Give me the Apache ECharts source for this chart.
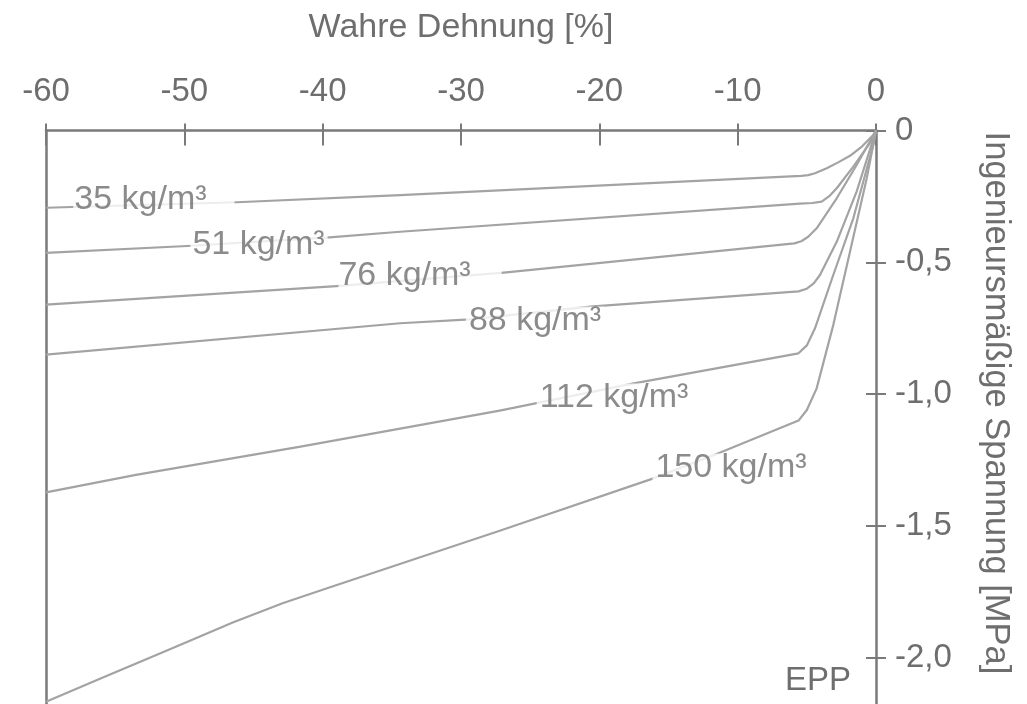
<!DOCTYPE html>
<html><head><meta charset="utf-8">
<script src="https://cdn.jsdelivr.net/npm/echarts@6/dist/echarts.min.js"></script>
<style>html,body{margin:0;padding:0;background:#fff}#c{width:1027px;height:704px}</style>
</head><body><div id="c"></div>
<script>
// ---- data (strain %, engineering stress MPa) ----
const densities = ['35', '51', '76', '88', '112', '150'];
const c35  = [[-60,-0.293],[-46.2,-0.272],[-34.4,-0.245],[-5.4,-0.172],[-4.9,-0.169],[-4.41,-0.162],[-3.56,-0.143],[-2.7,-0.12],[-1.88,-0.096],[-1.0,-0.060],[-0.2,-0.017],[0,0]];
const c51  = [[-60,-0.464],[-49.8,-0.438],[-39.5,-0.405],[-34.4,-0.384],[-5.5,-0.277],[-4.6,-0.275],[-3.93,-0.270],[-3.4,-0.250],[-2.84,-0.219],[-1.64,-0.137],[-0.2,-0.030],[0,0]];
const c76  = [[-60,-0.660],[-39,-0.590],[-26.9,-0.539],[-5.9,-0.428],[-5.4,-0.420],[-4.9,-0.403],[-4.29,-0.371],[-2.84,-0.257],[-1.4,-0.131],[0,0]];
const c88  = [[-60,-0.850],[-34.4,-0.731],[-29.35,-0.716],[-20.67,-0.668],[-5.6,-0.610],[-5.0,-0.600],[-4.5,-0.580],[-4.05,-0.548],[-2.84,-0.422],[-1.4,-0.232],[0,0]];
const c112 = [[-60,-1.372],[-53.5,-1.306],[-41.6,-1.199],[-27.2,-1.062],[-17.6,-0.960],[-5.6,-0.845],[-5.0,-0.815],[-4.41,-0.750],[-3.09,-0.548],[-1.64,-0.333],[-0.2,-0.055],[0,0]];
const c150 = [[-60,-2.166],[-56.1,-2.079],[-51,-1.966],[-46.5,-1.866],[-42.9,-1.793],[-39.25,-1.728],[-27.2,-1.518],[-16.3,-1.323],[-11.3,-1.222],[-5.6,-1.100],[-5.0,-1.060],[-4.29,-0.978],[-3.09,-0.738],[-1.88,-0.460],[-0.67,-0.181],[0,0]];
const curves = [c35, c51, c76, c88, c112, c150];
// label anchors (data coordinates)
const labelStrain = [-52.2, -44.6, -32.96, -24.65, -18.94, -10.48];
const labelStress = [-0.2636, -0.434, -0.550, -0.7205, -1.0125, -1.278];
// axes
const xMin = -60, xMax = 0, xStep = 10;
const yMin = -2.5, yMax = 0, yStep = 0.5;
const xTitle = 'Wahre Dehnung [%]';
const yTitle = 'Ingenieursmäßige Spannung [MPa]';
const materialTag = 'EPP';

// ---- styles ----
const FONT = "'Liberation Sans', Arial, sans-serif";
const AXIS = '#7a7a7a', TEXT = '#6e6e6e', LINE = '#a3a3a3';
const labelPad = [[0,28,0,1],[0,3,0,2],[0,31,0,0],[0,3,0,3],[0,3,0,3],[0,3,0,3]];

const chart = echarts.init(document.getElementById('c'), null, {renderer: 'canvas'});
const baseX = {type: 'value', min: xMin, max: xMax, interval: xStep, position: 'top', splitLine: {show: false}};
const baseY = {type: 'value', min: yMin, max: yMax, interval: yStep, splitLine: {show: false}};
const yFmt = v => v === 0 ? '0' : v.toFixed(1).replace('.', ',');

const series = curves.map((c, i) => ({
  type: 'line', data: c, showSymbol: false, smooth: false,
  lineStyle: {color: LINE, width: 2.2, join: 'round'}, silent: true, z: 2, xAxisIndex: 0, yAxisIndex: 0
}));
series.push({
  type: 'scatter', xAxisIndex: 0, yAxisIndex: 0, z: 5, silent: true,
  symbol: 'circle', symbolSize: 1, itemStyle: {color: 'rgba(0,0,0,0)'},
  data: densities.map((d, i) => ({
    value: [labelStrain[i], labelStress[i]],
    label: {padding: labelPad[i]}
  })),
  label: {
    show: true, position: 'inside',
    formatter: p => densities[p.dataIndex] + ' kg/m³',
    fontFamily: FONT, fontSize: 34, color: TEXT, backgroundColor: '#fff', lineHeight: 28
  }
});

chart.setOption({
  animation: false,
  backgroundColor: '#fff',
  grid: {left: 46, width: 830, top: 130.5, height: 659.25, containLabel: false, outerBoundsMode: 'none'},
  xAxis: [
    Object.assign({}, baseX, {
      name: xTitle, nameLocation: 'middle', nameGap: 86,
      nameTextStyle: {fontFamily: FONT, fontSize: 34, color: TEXT},
      axisLine: {show: true, onZero: false, lineStyle: {color: AXIS, width: 2.5}},
      axisTick: {show: true, inside: false, length: 7, lineStyle: {color: AXIS, width: 2}},
      axisLabel: {show: true, margin: 22, fontFamily: FONT, fontSize: 33, color: TEXT}
    }),
    Object.assign({}, baseX, {
      axisLine: {show: false, onZero: false},
      axisTick: {show: true, inside: true, length: 15, lineStyle: {color: AXIS, width: 2}},
      axisLabel: {show: false}
    })
  ],
  yAxis: [
    Object.assign({}, baseY, {
      position: 'right',
      axisLine: {show: true, onZero: false, lineStyle: {color: AXIS, width: 2.5}},
      axisTick: {show: true, inside: false, length: 10, lineStyle: {color: AXIS, width: 2}},
      axisLabel: {show: true, margin: 19, fontFamily: FONT, fontSize: 33, color: TEXT, formatter: yFmt}
    }),
    Object.assign({}, baseY, {
      position: 'right',
      axisLine: {show: false, onZero: false},
      axisTick: {show: true, inside: true, length: 10, lineStyle: {color: AXIS, width: 2}},
      axisLabel: {show: false}
    }),
    Object.assign({}, baseY, {
      position: 'left',
      axisLine: {show: true, onZero: false, lineStyle: {color: AXIS, width: 2.5}},
      axisTick: {show: false}, axisLabel: {show: false}
    })
  ],
  graphic: [
    {type: 'text', x: 996, y: 403, rotation: -Math.PI / 2, silent: true,
     style: {text: yTitle, fontFamily: FONT, fontSize: 34.5, fill: TEXT, textAlign: 'center', textVerticalAlign: 'middle'}},
    {type: 'text', x: 818, y: 681, silent: true,
     style: {text: materialTag, fontFamily: FONT, fontSize: 33, fill: TEXT, textAlign: 'center', textVerticalAlign: 'middle'}}
  ],
  series: series
});
</script></body></html>
